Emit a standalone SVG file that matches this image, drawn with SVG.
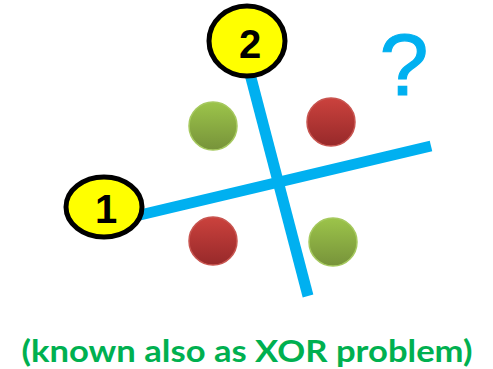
<svg xmlns="http://www.w3.org/2000/svg" width="493" height="369" viewBox="0 0 493 369">
<style>
.node ellipse{fill:#ffff00;stroke:#000;stroke-width:5}
.node text{font-family:"Liberation Sans",Arial,sans-serif;font-weight:bold;font-size:40px;fill:#000;text-anchor:middle}
.sep{stroke:#00b0f0;stroke-width:11;stroke-linecap:butt;fill:none}
.g{fill:url(#gg);stroke:#a6c95f;stroke-width:1.5}
.r{fill:url(#rg);stroke:#c85550;stroke-width:1.5}
</style>
<defs>
<linearGradient id="gg" x1="0" y1="0" x2="0" y2="1">
<stop offset="0" stop-color="#9cc44a"/>
<stop offset="1" stop-color="#77933a"/>
</linearGradient>
<linearGradient id="rg" x1="0" y1="0" x2="0" y2="1">
<stop offset="0" stop-color="#cb423d"/>
<stop offset="1" stop-color="#97292a"/>
</linearGradient>
</defs>
<rect width="493" height="369" fill="#fff"/>
<g id="points">
<circle class="g" cx="213" cy="126" r="24"/>
<circle class="r" cx="331" cy="122" r="24"/>
<circle class="r" cx="213" cy="241" r="24"/>
<circle class="g" cx="333" cy="242" r="24"/>
</g>
<g id="connectors">
<line class="sep" x1="140" y1="215" x2="431" y2="146"/>
<line class="sep" x1="250" y1="74" x2="308" y2="296"/>
</g>
<g id="node1" class="node">
<ellipse cx="104" cy="207" rx="38" ry="30"/>
<text x="106" y="223">1</text>
</g>
<g id="node2" class="node">
<ellipse cx="247" cy="41" rx="38" ry="35"/>
<text x="250" y="58">2</text>
</g>
<text id="question" x="404" y="95" font-family="Liberation Sans,Arial,sans-serif" font-size="88" fill="#00b0f0" stroke="#00b0f0" stroke-width="1.2" text-anchor="middle">?</text>
<text id="caption" x="247" y="362" font-family="Lato,Liberation Sans,sans-serif" font-weight="bold" font-size="31" fill="#00b050" text-anchor="middle" textLength="451" lengthAdjust="spacingAndGlyphs">(known also as XOR problem)</text>
</svg>
